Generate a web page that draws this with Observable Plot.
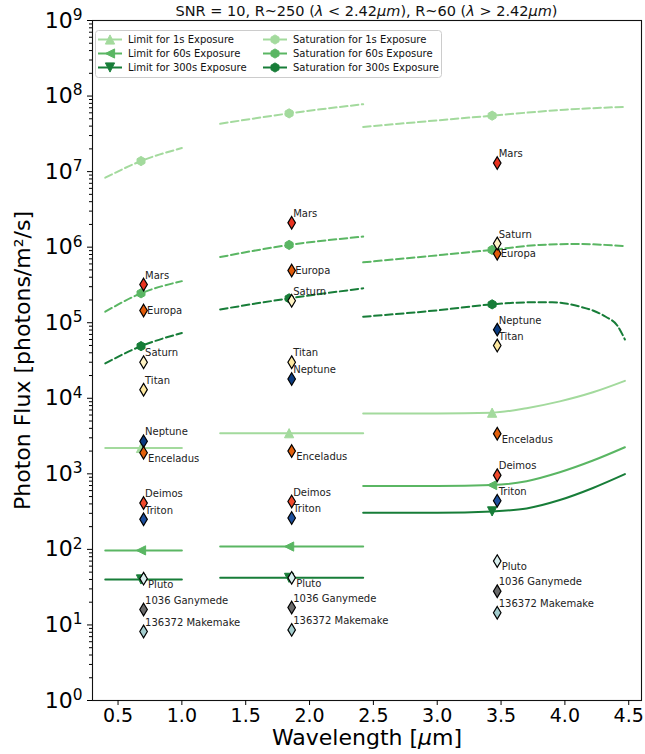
<!DOCTYPE html>
<html><head><meta charset="utf-8">
<script src="https://cdn.jsdelivr.net/npm/d3@7"></script>
<script src="https://cdn.jsdelivr.net/npm/@observablehq/plot@0.6"></script>
<style>
body{margin:0;background:#fff;font-family:"DejaVu Sans",sans-serif;}
#wrap{position:relative;width:645px;height:754px;overflow:hidden;}
#title{position:absolute;top:3px;left:92px;width:549px;text-align:center;font-size:14.5px;color:#111;white-space:nowrap;}
#legend{position:absolute;left:95px;top:30px;}
</style></head><body>
<div id="wrap"><div id="chart"></div><div id="title">SNR = 10, R~250 (<i>λ</i> &lt; 2.42<i>μm</i>), R~60 (<i>λ</i> &gt; 2.42<i>μm</i>)</div><div id="legend"></div></div>
<script>
// ---------------- data ----------------
const xTicks = [0.5, 1.0, 1.5, 2.0, 2.5, 3.0, 3.5, 4.0, 4.5];
const yTicks = [1, 1e1, 1e2, 1e3, 1e4, 1e5, 1e6, 1e7, 1e8, 1e9];
const markerWave = [0.68, 1.84, 3.43];

const sat1s = [
  {band:1,w:0.40,f:8.3e6},{band:1,w:0.68,f:1.38e7},{band:1,w:1.00,f:2.05e7},
  {band:2,w:1.30,f:4.3e7},{band:2,w:1.84,f:5.9e7},{band:2,w:2.42,f:7.8e7},
  {band:3,w:2.42,f:3.9e7},{band:3,w:3.43,f:5.5e7},{band:3,w:4.00,f:6.6e7},{band:3,w:4.47,f:7.2e7}
];
const sat60s = [
  {band:1,w:0.40,f:1.4e5},{band:1,w:0.68,f:2.45e5},{band:1,w:1.00,f:3.55e5},
  {band:2,w:1.30,f:7.4e5},{band:2,w:1.84,f:1.07e6},{band:2,w:2.42,f:1.38e6},
  {band:3,w:2.42,f:6.3e5},{band:3,w:3.00,f:7.8e5},{band:3,w:3.43,f:9.2e5},{band:3,w:3.80,f:1.07e6},{band:3,w:4.10,f:1.1e6},{band:3,w:4.47,f:1.03e6}
];
const sat300s = [
  {band:1,w:0.40,f:2.9e4},{band:1,w:0.68,f:4.9e4},{band:1,w:1.00,f:7.3e4},
  {band:2,w:1.30,f:1.5e5},{band:2,w:1.84,f:2.1e5},{band:2,w:2.42,f:2.85e5},
  {band:3,w:2.42,f:1.2e5},{band:3,w:3.00,f:1.46e5},{band:3,w:3.43,f:1.75e5},{band:3,w:3.70,f:1.86e5},{band:3,w:3.90,f:1.87e5},
  {band:3,w:4.02,f:1.78e5},{band:3,w:4.12,f:1.63e5},{band:3,w:4.22,f:1.45e5},{band:3,w:4.32,f:1.2e5},{band:3,w:4.41,f:9.2e4},{band:3,w:4.47,f:6.0e4}
];
const lim1s = [
  {band:1,w:0.40,f:2.2e3},{band:1,w:0.68,f:2.2e3},{band:1,w:1.00,f:2.2e3},
  {band:2,w:1.30,f:3.45e3},{band:2,w:1.84,f:3.45e3},{band:2,w:2.42,f:3.45e3},
  {band:3,w:2.42,f:6.3e3},{band:3,w:3.00,f:6.3e3},{band:3,w:3.43,f:6.45e3},{band:3,w:3.70,f:7.4e3},{band:3,w:3.96,f:9.1e3},{band:3,w:4.22,f:1.2e4},{band:3,w:4.47,f:1.7e4}
];
const lim60s = [
  {band:1,w:0.40,f:97},{band:1,w:0.68,f:97},{band:1,w:1.00,f:97},
  {band:2,w:1.30,f:109},{band:2,w:1.84,f:109},{band:2,w:2.42,f:109},
  {band:3,w:2.42,f:690},{band:3,w:3.00,f:690},{band:3,w:3.43,f:710},{band:3,w:3.70,f:800},{band:3,w:3.96,f:1050},{band:3,w:4.22,f:1500},{band:3,w:4.47,f:2250}
];
const lim300s = [
  {band:1,w:0.40,f:40},{band:1,w:0.68,f:40},{band:1,w:1.00,f:40},
  {band:2,w:1.30,f:42},{band:2,w:1.84,f:42},{band:2,w:2.42,f:42},
  {band:3,w:2.42,f:305},{band:3,w:3.00,f:305},{band:3,w:3.43,f:318},{band:3,w:3.70,f:348},{band:3,w:3.96,f:450},{band:3,w:4.22,f:650},{band:3,w:4.47,f:990}
];

const objects = ["Mars","Europa","Saturn","Titan","Neptune","Enceladus","Deimos","Triton","Pluto","1036 Ganymede","136372 Makemake"];
const objectWave = [0.70, 1.86, 3.47];
const fluxBand1 = [3.2e5, 1.45e5, 3.0e4, 1.3e4, 2.7e3, 1.9e3, 410, 250, 41, 16, 8.2];
const fluxBand2 = [2.1e6, 4.9e5, 1.95e5, 3.0e4, 1.8e4, 2.0e3, 430, 260, 42, 17, 8.6];
const fluxBand3 = [1.3e7, 8.2e5, 1.12e6, 5.0e4, 8.1e4, 3.4e3, 960, 440, 70, 28, 14.5];

// ---------------- styles ----------------
const objectColor = {
  "Mars":"#e8321f","Europa":"#e05a0a","Saturn":"#fff3c4","Titan":"#fde8a0","Neptune":"#0b3b80",
  "Enceladus":"#e2600c","Deimos":"#f04a2c","Triton":"#1d4f9c","Pluto":"#d9efee",
  "1036 Ganymede":"#6a6a6a","136372 Makemake":"#a3cccd"
};
const labelPlace = {"Europa":"right","Enceladus":"below","Pluto":"below"};
const cLight = "#a3da9d", cMid = "#5ab663", cDark = "#177d38";

const rOf = s => Math.sqrt(s / Math.PI);
const thinDiamond = {draw(c, s){ const r = rOf(s); c.moveTo(0,-r); c.lineTo(0.6*r,0); c.lineTo(0,r); c.lineTo(-0.6*r,0); c.closePath(); }};
const triUp = {draw(c, s){ const r = rOf(s); c.moveTo(0,-r); c.lineTo(r,r); c.lineTo(-r,r); c.closePath(); }};
const triDown = {draw(c, s){ const r = rOf(s); c.moveTo(0,r); c.lineTo(r,-r); c.lineTo(-r,-r); c.closePath(); }};
const triLeft = {draw(c, s){ const r = rOf(s); c.moveTo(-r,0); c.lineTo(r,-r); c.lineTo(r,r); c.closePath(); }};
const hexagon = {draw(c, s){ const r = rOf(s); for (let i = 0; i < 6; i++){ const a = -Math.PI/2 + i*Math.PI/3; const px = r*Math.cos(a), py = r*Math.sin(a); if (i) c.lineTo(px,py); else c.moveTo(px,py);} c.closePath(); }};

// ---------------- build ----------------
const diamonds = [];
[fluxBand1, fluxBand2, fluxBand3].forEach((arr, b) => arr.forEach((f, i) => diamonds.push({name: objects[i], w: objectWave[b], f})));
const place = d => labelPlace[d.name] || "above";
const minorY = [];
for (let e = 0; e < 9; e++) for (let k = 2; k <= 9; k++) minorY.push(k * 10 ** e);
const atMarkers = arr => arr.filter(d => markerWave.includes(d.w));

const series = [
  {data: sat1s, color: cLight, dash: "7.5,3.5", sym: hexagon, r: 4.6},
  {data: sat60s, color: cMid, dash: "7.5,3.5", sym: hexagon, r: 4.6},
  {data: sat300s, color: cDark, dash: "7.5,3.5", sym: hexagon, r: 4.6},
  {data: lim1s, color: cLight, dash: null, sym: triUp, r: 4.6},
  {data: lim60s, color: cMid, dash: null, sym: triLeft, r: 4.6},
  {data: lim300s, color: cDark, dash: null, sym: triDown, r: 4.6}
];

const marks = [];
for (const s of series) {
  marks.push(Plot.line(s.data, {x: "w", y: "f", z: "band", stroke: s.color, strokeWidth: 2, strokeDasharray: s.dash || undefined, curve: "monotone-x"}));
}
for (const s of series) {
  marks.push(Plot.dot(atMarkers(s.data), {x: "w", y: "f", symbol: s.sym, r: s.r, fill: s.color, stroke: s.color, strokeWidth: 1}));
}
marks.push(Plot.dot(diamonds, {x: "w", y: "f", symbol: thinDiamond, r: 6.3, fill: d => objectColor[d.name], stroke: "#000", strokeWidth: 1.2}));
marks.push(Plot.text(diamonds.filter(d => place(d) === "above"), {x: "w", y: "f", text: "name", textAnchor: "start", dx: 1.5, dy: -9, fontSize: 10, fill: "#222"}));
marks.push(Plot.text(diamonds.filter(d => place(d) === "right"), {x: "w", y: "f", text: "name", textAnchor: "start", dx: 3.5, dy: 0.5, fontSize: 10, fill: "#222"}));
marks.push(Plot.text(diamonds.filter(d => place(d) === "below"), {x: "w", y: "f", text: "name", textAnchor: "start", dx: 4.5, dy: 6, fontSize: 10, fill: "#222"}));

const chart = Plot.plot({
  width: 645, height: 754,
  marginLeft: 92, marginRight: 4, marginTop: 20, marginBottom: 54,
  style: {fontFamily: "DejaVu Sans", color: "#000", background: "white", overflow: "visible"},
  x: {domain: [0.3, 4.6]},
  y: {type: "log", domain: [1, 1e9]},
  marks: [
    ...marks,
    Plot.frame({stroke: "#111", strokeWidth: 1.1}),
    Plot.axisX({ticks: xTicks, tickFormat: d3.format(".1f"), tickSize: 5, tickPadding: 3, fontSize: 19, label: null}),
    Plot.axisY({ticks: yTicks, tickFormat: d => "10^" + Math.round(Math.log10(d)), tickSize: 5, tickPadding: 5, fontSize: 22, label: null}),
    Plot.axisY({ticks: minorY, tickSize: 3, tickFormat: () => "", label: null}),
    Plot.text(["Photon Flux [photons/m²/s]"], {frameAnchor: "left", text: d => d, rotate: -90, dx: -70, fontSize: 22, textAnchor: "middle", fill: "#000"}),
    Plot.text(["Wavelength [μm]"], {frameAnchor: "bottom", text: d => d, dy: 44, fontSize: 22, textAnchor: "middle", fill: "#000"})
  ]
});
document.getElementById("chart").appendChild(chart);

// superscript exponents on the y tick labels
d3.select(chart).selectAll('g[aria-label="y-axis tick label"] text').each(function(){
  const t = d3.select(this); const s = t.text();
  if (!s.startsWith("10^")) return;
  const e = s.slice(3);
  t.text("10");
  t.append("tspan").attr("dy", "-0.5em").attr("font-size", "0.7em").text(e);
});
// italic mu in the x label
d3.select(chart).selectAll("text").each(function(){
  const t = d3.select(this);
  if (t.text() === "Wavelength [μm]") {
    t.text("Wavelength [");
    t.append("tspan").attr("font-style", "italic").text("μ");
    t.append("tspan").text("m]");
  }
});

// ---------------- legend ----------------
const lw = 346, lh = 47;
const lg = d3.select("#legend").append("svg").attr("width", lw + 2).attr("height", lh + 2);
lg.append("rect").attr("x", 0.5).attr("y", 0.5).attr("width", lw).attr("height", lh).attr("rx", 3)
  .attr("fill", "white").attr("fill-opacity", 0.8).attr("stroke", "#ccc");
const legendItems = [
  {label: "Limit for 1s Exposure", color: cLight, sym: triUp, col: 0, row: 0},
  {label: "Limit for 60s Exposure", color: cMid, sym: triLeft, col: 0, row: 1},
  {label: "Limit for 300s Exposure", color: cDark, sym: triDown, col: 0, row: 2},
  {label: "Saturation for 1s Exposure", color: cLight, sym: hexagon, col: 1, row: 0},
  {label: "Saturation for 60s Exposure", color: cMid, sym: hexagon, col: 1, row: 1},
  {label: "Saturation for 300s Exposure", color: cDark, sym: hexagon, col: 1, row: 2}
];
const colX = [3, 168], rowY = [9.5, 23.5, 37.5];
for (const it of legendItems) {
  const x0 = colX[it.col], y0 = rowY[it.row];
  lg.append("line").attr("x1", x0).attr("x2", x0 + 24).attr("y1", y0).attr("y2", y0).attr("stroke", it.color).attr("stroke-width", 2);
  lg.append("path").attr("transform", `translate(${x0 + 12},${y0})`).attr("d", d3.symbol(it.sym, Math.PI * 4.6 * 4.6)()).attr("fill", it.color).attr("stroke", it.color);
  lg.append("text").attr("x", x0 + 30).attr("y", y0).attr("dy", "0.35em").attr("font-size", 10).attr("font-family", "DejaVu Sans").attr("fill", "#111").text(it.label);
}
</script>
</body></html>
